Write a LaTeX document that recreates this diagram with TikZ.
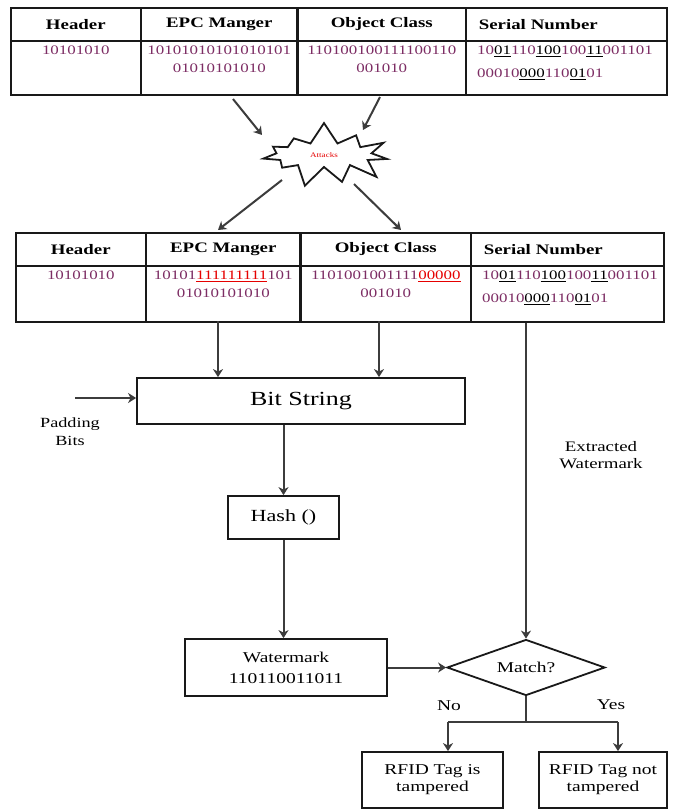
\documentclass[tikz,border=0pt]{standalone}
\usepackage{fontspec}
\setmainfont{Liberation Serif}[FakeStretch=1.3]
\usetikzlibrary{arrows.meta,shapes.geometric,shapes.symbols}
\definecolor{ln}{RGB}{25,25,25}
\definecolor{arr}{RGB}{60,60,60}
\definecolor{digit}{RGB}{125,45,100}
\definecolor{hot}{RGB}{230,0,0}
\newcommand{\blkul}[1]{{\color{black}\underline{#1}}}
\newcommand{\redul}[1]{{\color{hot}\underline{#1}}}
\tikzset{
  hcell/.style={draw=ln, line width=1.6pt, anchor=north west, inner sep=0pt,
    minimum height=33pt, font=\fontsize{14.5}{17}\selectfont\bfseries},
  dcell/.style={draw=ln, line width=1.6pt, anchor=north west, inner sep=0pt},
  bits/.style={anchor=north, inner sep=0pt, align=center, text=digit,
    font=\fontsize{13}{18}\selectfont},
  sbits/.style={anchor=north west, inner sep=0pt, align=left, text=digit,
    font=\fontsize{13}{23}\selectfont},
  box/.style={draw=ln, line width=1.8pt, inner sep=0pt, align=center},
  lbl/.style={inner sep=0pt, align=center, font=\fontsize{14}{17}\selectfont},
  arrow/.style={draw=arr, line width=2pt, -{Stealth[length=8pt,width=10pt,inset=2.5pt]}},
  plain/.style={draw=arr, line width=2pt},
  divider/.style={draw=ln, line width=2.8pt}
}
\begin{document}
\begin{tikzpicture}[x=1pt,y=-1pt]
\useasboundingbox[fill=white] (0,0) rectangle (673,809);

% ---------- top table ----------
\node[hcell, minimum width=130pt] (t1h1) at (10,7) {Header};
\node[hcell, minimum width=157pt] (t1h2) at (140,7) {EPC Manger};
\node[hcell, minimum width=168pt] (t1h3) at (297,7) {Object Class};
\node[hcell, minimum width=201pt, text width=175pt, align=left] (t1h4) at (465,7) {Serial Number};
\node[dcell, minimum width=130pt, minimum height=54pt] (t1d1) at (10,40) {};
\node[dcell, minimum width=157pt, minimum height=54pt] (t1d2) at (140,40) {};
\node[dcell, minimum width=168pt, minimum height=54pt] (t1d3) at (297,40) {};
\node[dcell, minimum width=201pt, minimum height=54pt] (t1d4) at (465,40) {};
\draw[divider] (t1h3.north west) -- (t1d3.south west);
\node[bits] (t1b1) at ([yshift=-6pt]t1d1.north) {10101010};
\node[bits] (t1b2) at ([yshift=-6pt]t1d2.north) {10101010101010101\\01010101010};
\node[bits] (t1b3) at ([yshift=-6pt]t1d3.north) {110100100111100110\\001010};
\node[sbits] (t1b4) at ([xshift=12pt,yshift=-6pt]t1d4.north west)
  {10\blkul{01}110\blkul{100}100\blkul{11}001101\\00010\blkul{000}110\blkul{01}01};

% ---------- attack ----------
\node[starburst, draw=ln, line width=1.8pt, fill=white, minimum width=140pt,
  minimum height=68pt, starburst points=11, starburst point height=22pt,
  random starburst=7, inner sep=0pt, text=hot, font=\fontsize{7}{8}\selectfont]
  (atk) at (324,155) {Attacks};
\coordinate (s1) at (233,99);
\coordinate (e1) at (262,135);
\coordinate (s2) at (380,97);
\coordinate (e2) at (363,130);
\coordinate (o1) at (282,180);
\coordinate (o2) at (354,184);
\coordinate (f1) at (218,230);
\coordinate (f2) at (401,230);
\draw[arrow] (s1) -- (e1);
\draw[arrow] (s2) -- (e2);
\draw[arrow] (o1) -- (f1);
\draw[arrow] (o2) -- (f2);

% ---------- modified table ----------
\node[hcell, minimum width=130pt] (t2h1) at (15,232) {Header};
\node[hcell, minimum width=155pt] (t2h2) at (145,232) {EPC Manger};
\node[hcell, minimum width=170pt] (t2h3) at (300,232) {Object Class};
\node[hcell, minimum width=193pt, text width=167pt, align=left] (t2h4) at (470,232) {Serial Number};
\node[dcell, minimum width=130pt, minimum height=56pt] (t2d1) at (15,265) {};
\node[dcell, minimum width=155pt, minimum height=56pt] (t2d2) at (145,265) {};
\node[dcell, minimum width=170pt, minimum height=56pt] (t2d3) at (300,265) {};
\node[dcell, minimum width=193pt, minimum height=56pt] (t2d4) at (470,265) {};
\draw[divider] (t2h3.north west) -- (t2d3.south west);
\node[bits] (t2b1) at ([yshift=-6pt]t2d1.north) {10101010};
\node[bits] (t2b2) at ([yshift=-6pt]t2d2.north) {10101\redul{111111111}101\\01010101010};
\node[bits] (t2b3) at ([yshift=-6pt]t2d3.north) {1101001001111\redul{00000}\\001010};
\node[sbits] (t2b4) at ([xshift=12pt,yshift=-6pt]t2d4.north west)
  {10\blkul{01}110\blkul{100}100\blkul{11}001101\\00010\blkul{000}110\blkul{01}01};

% ---------- flow ----------
\node[box, minimum width=328pt, minimum height=46pt, font=\fontsize{20}{24}\selectfont]
  (bits) at (301,401) {Bit String};
\node[box, minimum width=111pt, minimum height=43pt, font=\fontsize{17}{20}\selectfont]
  (hash) at (283.5,517.5) {Hash ()};
\node[box, minimum width=202pt, minimum height=57pt, font=\fontsize{15}{21}\selectfont]
  (wm) at (286,667.5) {Watermark\\110110011011};
\node[diamond, draw=ln, line width=1.8pt, inner sep=0pt, aspect=2.8,
  minimum width=158pt, minimum height=56pt, font=\fontsize{15}{18}\selectfont]
  (match) at (526,667.5) {Match?};
\node[box, minimum width=141pt, minimum height=56pt, font=\fontsize{15}{17}\selectfont]
  (r1) at (432.5,780) {RFID Tag is\\tampered};
\node[box, minimum width=128pt, minimum height=56pt, font=\fontsize{15}{17}\selectfont]
  (r2) at (603,780) {RFID Tag not\\tampered};

\node[lbl, font=\fontsize{14}{18}\selectfont] (pad) at (70,432) {Padding\\Bits};
\node[lbl, font=\fontsize{14.5}{17}\selectfont] (ext) at (601,455) {Extracted\\Watermark};
\node[lbl, font=\fontsize{15}{18}\selectfont] (no) at (449,706) {No};
\node[lbl, font=\fontsize{15}{18}\selectfont] (yes) at (611,705) {Yes};

\coordinate (c1) at (218,321);
\coordinate (c2) at (379,321);
\draw[arrow] (c1) -- (c1 |- bits.north);
\draw[arrow] (c2) -- (c2 |- bits.north);
\coordinate (padstart) at (75,398);
\draw[arrow] (padstart) -- (padstart -| bits.west);
\draw[arrow] (bits.south -| hash.north) -- (hash.north);
\draw[arrow] (hash.south) -- (hash.south |- wm.north);
\draw[arrow] (wm.east) -- (match.west);
\draw[arrow] (match.north |- t2d4.south) -- (match.north);
\coordinate (jn) at (526,722);
\coordinate (jl) at (448,722);
\coordinate (jr) at (618,722);
\draw[plain] (match.south) -- (jn);
\draw[plain] (jl) -- (jr);
\draw[arrow] (jl) -- (jl |- r1.north);
\draw[arrow] (jr) -- (jr |- r2.north);
\end{tikzpicture}
\end{document}
